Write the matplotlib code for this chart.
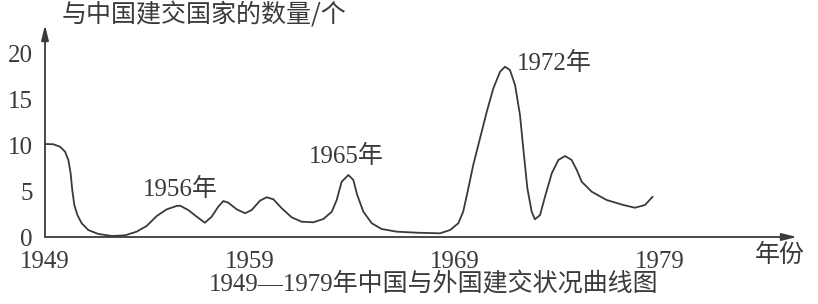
import numpy as np
import matplotlib
matplotlib.use("Agg")
import matplotlib.pyplot as plt

# values (year, number of countries)
years = [1949.00, 1949.40, 1949.73, 1949.98, 1950.14, 1950.25, 1950.33, 1950.43,
         1950.58, 1950.79, 1951.11, 1951.60, 1952.25, 1952.90, 1953.47, 1953.96,
         1954.45, 1954.94, 1955.42, 1955.59, 1955.99, 1956.40, 1956.80, 1957.13,
         1957.45, 1957.70, 1957.94, 1958.35, 1958.76, 1959.08, 1959.49, 1959.81,
         1960.14, 1960.55, 1961.03, 1961.52, 1962.09, 1962.58, 1962.99, 1963.23,
         1963.47, 1963.80, 1964.04, 1964.23, 1964.53, 1964.94, 1965.42, 1966.16,
         1967.13, 1968.27, 1968.76, 1969.16, 1969.40, 1969.65, 1969.89, 1970.22,
         1970.55, 1970.87, 1971.20, 1971.44, 1971.68, 1971.93, 1972.17, 1972.33,
         1972.53, 1972.74, 1972.90, 1973.15, 1973.39, 1973.72, 1974.04, 1974.37,
         1974.69, 1974.94, 1975.18, 1975.67, 1976.40, 1977.21, 1977.78, 1978.27,
         1978.64]
counts = [10.11, 10.08, 9.82, 9.27, 8.37, 6.92, 5.11, 3.48,
          2.39, 1.49, 0.76, 0.33, 0.11, 0.18, 0.58, 1.20,
          2.28, 3.01, 3.37, 3.40, 2.93, 2.21, 1.55, 2.21,
          3.29, 3.91, 3.73, 3.01, 2.58, 2.93, 3.95, 4.32,
          4.10, 3.12, 2.14, 1.66, 1.60, 1.96, 2.75, 4.02,
          6.01, 6.74, 6.20, 4.57, 2.75, 1.49, 0.87, 0.58,
          0.47, 0.40, 0.76, 1.49, 2.75, 5.29, 7.83, 10.73,
          13.62, 16.16, 17.97, 18.51, 18.15, 16.52, 13.26, 9.64,
          5.29, 2.75, 1.92, 2.39, 4.38, 6.92, 8.37, 8.80,
          8.37, 7.28, 6.01, 4.92, 4.02, 3.48, 3.18, 3.48,
          4.38]

x_ticks = [1949, 1959, 1969, 1979]
y_ticks = [0, 5, 10, 15, 20]
peak_labels = ["1956年", "1965年", "1972年"]
peak_pos = [(1955.6, 5.2), (1963.7, 8.8), (1972.0, 18.9)]

ink = "#3a3a3a"
mixed = ["Liberation Serif", "Noto Sans CJK SC"]
cjk = ["Noto Sans CJK SC", "Liberation Serif"]

W, H = 818, 304
fig = plt.figure(figsize=(W / 100, H / 100), dpi=100)
ax = fig.add_axes([45 / W, 67 / H, (797 - 45) / W, (237 - 25) / H])

ax.plot(years, counts, color=ink, lw=1.3, solid_joinstyle="round", solid_capstyle="round")

ax.set_xlim(1949, 1949 + (797 - 45) / 20.5)
ax.set_ylim(0, (237 - 25) / 9.2)

for s in ax.spines.values():
    s.set_visible(False)
arrow = dict(arrowstyle="-|>,head_length=0.9,head_width=0.22", color=ink, lw=1.3,
             shrinkA=0, shrinkB=0)
ax.annotate("", xy=(1, 0), xytext=(0, 0), xycoords="axes fraction", arrowprops=arrow)
ax.annotate("", xy=(0, 1), xytext=(0, 0), xycoords="axes fraction", arrowprops=arrow)

ax.set_xticks(x_ticks)
ax.set_yticks(y_ticks)
ax.tick_params(length=0, labelsize=18, colors=ink)
ax.tick_params(axis="x", pad=10)
ax.tick_params(axis="y", pad=9)
for lab in ax.get_xticklabels() + ax.get_yticklabels():
    lab.set_family(mixed)

for txt, (px, py) in zip(peak_labels, peak_pos):
    ha = "left" if txt == "1972年" else "center"
    ax.text(px, py, txt, ha=ha, va="center", fontsize=18, color=ink, family=mixed)

fig.text(62 / W, 1 - 15 / H, "与中国建交国家的数量/个", ha="left", va="center",
         fontsize=18, color=ink, family=cjk, weight="light")
fig.text(780 / W, 1 - 255 / H, "年份", ha="center", va="center",
         fontsize=18, color=ink, family=cjk, weight="light")
fig.text(434 / W, 1 - 284 / H, "1949—1979年中国与外国建交状况曲线图", ha="center",
         va="center", fontsize=18, color=ink, family=mixed)

fig.savefig("out.png", dpi=100)
